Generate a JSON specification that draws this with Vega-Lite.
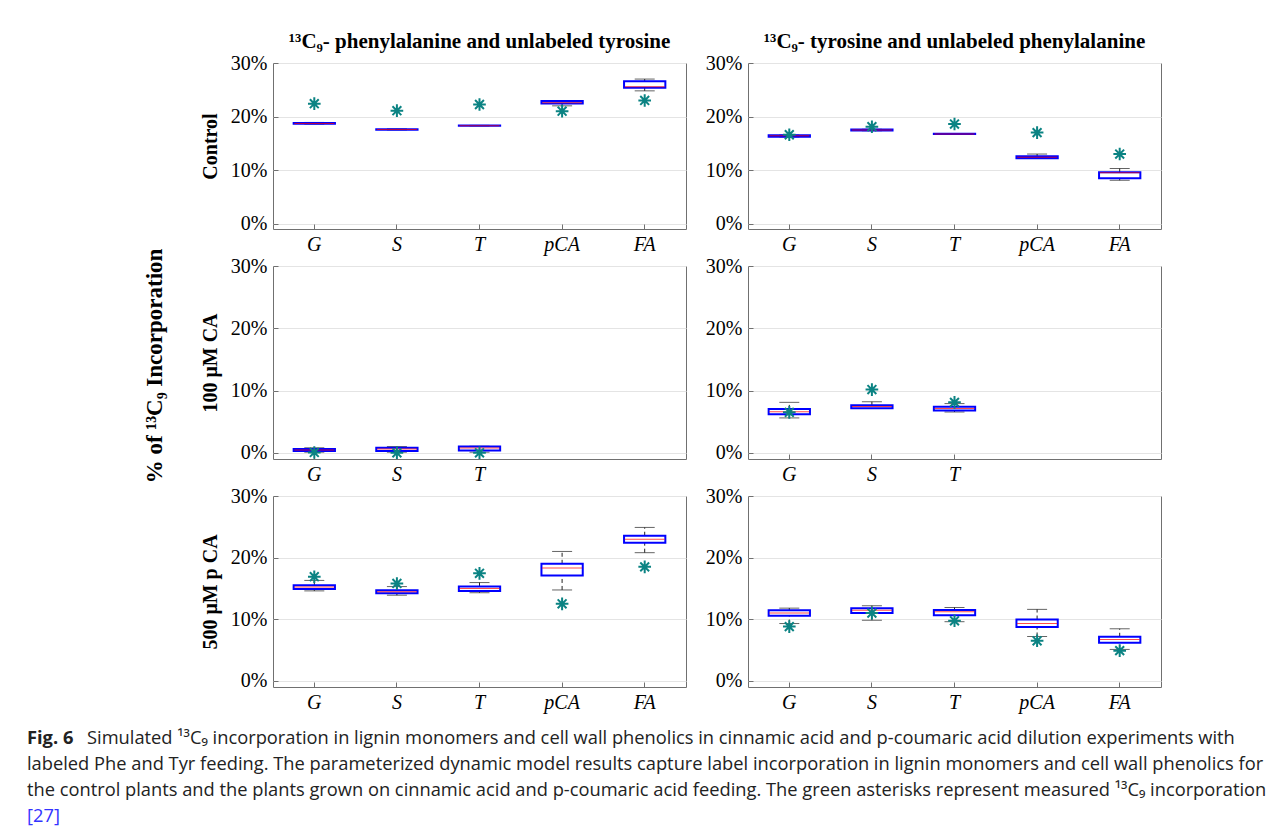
{
  "$schema": "https://vega.github.io/schema/vega-lite/v6.json",
  "padding": {"left": 27, "top": 30, "right": 0, "bottom": 0},
  "background": "white",
  "datasets": {
    "boxes": [
      {"feed": "Phe", "trt": "Control", "cat": "G", "lo": 18.6, "q1": 18.65, "med": 18.7, "q3": 18.8, "hi": 18.9, "meas": 22.4},
      {"feed": "Phe", "trt": "Control", "cat": "S", "lo": 17.5, "q1": 17.55, "med": 17.6, "q3": 17.65, "hi": 17.7, "meas": 21.1},
      {"feed": "Phe", "trt": "Control", "cat": "T", "lo": 18.25, "q1": 18.28, "med": 18.3, "q3": 18.32, "hi": 18.35, "meas": 22.25},
      {"feed": "Phe", "trt": "Control", "cat": "pCA", "lo": 22.0, "q1": 22.45, "med": 22.6, "q3": 22.9, "hi": 22.95, "meas": 21.0},
      {"feed": "Phe", "trt": "Control", "cat": "FA", "lo": 24.8, "q1": 25.4, "med": 25.55, "q3": 26.6, "hi": 27.0, "meas": 23.0},
      {"feed": "Tyr", "trt": "Control", "cat": "G", "lo": 16.2, "q1": 16.25, "med": 16.4, "q3": 16.5, "hi": 16.55, "meas": 16.6},
      {"feed": "Tyr", "trt": "Control", "cat": "S", "lo": 17.35, "q1": 17.4, "med": 17.5, "q3": 17.6, "hi": 17.65, "meas": 18.1},
      {"feed": "Tyr", "trt": "Control", "cat": "T", "lo": 16.72, "q1": 16.73, "med": 16.75, "q3": 16.77, "hi": 16.78, "meas": 18.6},
      {"feed": "Tyr", "trt": "Control", "cat": "pCA", "lo": 12.2, "q1": 12.2, "med": 12.4, "q3": 12.6, "hi": 13.0, "meas": 17.0},
      {"feed": "Tyr", "trt": "Control", "cat": "FA", "lo": 8.1, "q1": 8.5, "med": 9.5, "q3": 9.6, "hi": 10.3, "meas": 13.0},
      {"feed": "Phe", "trt": "CA", "cat": "G", "lo": 0.1, "q1": 0.3, "med": 0.45, "q3": 0.6, "hi": 0.8, "meas": 0.05},
      {"feed": "Phe", "trt": "CA", "cat": "S", "lo": 0.1, "q1": 0.3, "med": 0.6, "q3": 0.8, "hi": 1.0, "meas": 0.0},
      {"feed": "Phe", "trt": "CA", "cat": "T", "lo": 0.1, "q1": 0.35, "med": 0.75, "q3": 1.0, "hi": 1.05, "meas": 0.0},
      {"feed": "Tyr", "trt": "CA", "cat": "G", "lo": 5.6, "q1": 6.2, "med": 6.6, "q3": 7.05, "hi": 8.1, "meas": 6.5},
      {"feed": "Tyr", "trt": "CA", "cat": "S", "lo": 7.1, "q1": 7.15, "med": 7.45, "q3": 7.65, "hi": 8.2, "meas": 10.15},
      {"feed": "Tyr", "trt": "CA", "cat": "T", "lo": 6.55, "q1": 6.8, "med": 7.1, "q3": 7.4, "hi": 7.9, "meas": 8.1},
      {"feed": "Phe", "trt": "pCA", "cat": "G", "lo": 14.6, "q1": 14.9, "med": 15.25, "q3": 15.5, "hi": 16.3, "meas": 16.9},
      {"feed": "Phe", "trt": "pCA", "cat": "S", "lo": 13.9, "q1": 14.2, "med": 14.45, "q3": 14.7, "hi": 15.3, "meas": 15.8},
      {"feed": "Phe", "trt": "pCA", "cat": "T", "lo": 14.3, "q1": 14.6, "med": 15.0, "q3": 15.3, "hi": 15.95, "meas": 17.45},
      {"feed": "Phe", "trt": "pCA", "cat": "pCA", "lo": 14.75, "q1": 17.1, "med": 18.3, "q3": 19.0, "hi": 21.0, "meas": 12.5},
      {"feed": "Phe", "trt": "pCA", "cat": "FA", "lo": 20.8, "q1": 22.4, "med": 23.0, "q3": 23.55, "hi": 24.9, "meas": 18.5},
      {"feed": "Tyr", "trt": "pCA", "cat": "G", "lo": 9.3, "q1": 10.55, "med": 11.0, "q3": 11.45, "hi": 11.8, "meas": 8.8},
      {"feed": "Tyr", "trt": "pCA", "cat": "S", "lo": 9.85, "q1": 11.0, "med": 11.45, "q3": 11.8, "hi": 12.2, "meas": 11.0},
      {"feed": "Tyr", "trt": "pCA", "cat": "T", "lo": 9.6, "q1": 10.65, "med": 11.2, "q3": 11.5, "hi": 11.9, "meas": 9.75},
      {"feed": "Tyr", "trt": "pCA", "cat": "pCA", "lo": 7.2, "q1": 8.75, "med": 9.3, "q3": 9.95, "hi": 11.6, "meas": 6.5},
      {"feed": "Tyr", "trt": "pCA", "cat": "FA", "lo": 5.1, "q1": 6.2, "med": 6.7, "q3": 7.15, "hi": 8.45, "meas": 4.9}
    ],
    "ylabel": [{"label": "% of ¹³C₉ Incorporation"}],
    "caption": [
      {"line": 1, "seg": "bold", "text": "Fig. 6"},
      {"line": 1, "seg": "plain", "text": "Simulated ¹³C₉ incorporation in lignin monomers and cell wall phenolics in cinnamic acid and p-coumaric acid dilution experiments with"},
      {"line": 2, "seg": "plain", "text": "labeled Phe and Tyr feeding. The parameterized dynamic model results capture label incorporation in lignin monomers and cell wall phenolics for"},
      {"line": 3, "seg": "plain", "text": "the control plants and the plants grown on cinnamic acid and p-coumaric acid feeding. The green asterisks represent measured ¹³C₉ incorporation"},
      {"line": 4, "seg": "ref", "text": "[27]"}
    ]
  },
  "spacing": 13,
  "vconcat": [
    {
      "spacing": 106,
      "bounds": "flush",
      "hconcat": [
        {
          "width": 140, "height": 606,
          "view": {"stroke": null},
          "data": {"name": "ylabel"},
          "mark": {"type": "text", "angle": 270, "align": "center", "baseline": "bottom", "font": "Liberation Serif", "fontSize": 23, "fontWeight": "bold", "color": "black"},
          "encoding": {
            "x": {"datum": 1, "type": "quantitative", "scale": {"domain": [0, 1]}, "axis": null},
            "y": {"datum": 0.5, "type": "quantitative", "scale": {"domain": [0, 1]}, "axis": null},
            "text": {"field": "label"}
          }
        },
        {
          "spacing": 0,
          "vconcat": [
            {
              "spacing": 17,
              "hconcat": [
                {
                  "width": 413, "height": 166,
                  "title": {"text": "¹³C₉- phenylalanine and unlabeled tyrosine"},
                  "data": {"name": "boxes"},
                  "transform": [{"filter": "datum.feed === 'Phe' && datum.trt === 'Control'"}],
                  "encoding": {"x": {"field": "cat", "type": "nominal", "scale": {"type": "band", "domain": ["G", "S", "T", "pCA", "FA"], "paddingInner": 0, "paddingOuter": 0}, "axis": {"title": null}}},
                  "layer": [
                    {"mark": {"type": "rule", "color": "#222222", "strokeDash": [4, 3]}, "encoding": {"y": {"field": "lo", "type": "quantitative", "scale": {"domain": [-1, 30], "nice": false}, "axis": {"title": "Control", "values": [0, 10, 20, 30], "labelExpr": "datum.value + '%'"}}, "y2": {"field": "q1"}}},
                    {"mark": {"type": "rule", "color": "#222222", "strokeDash": [4, 3]}, "encoding": {"y": {"field": "q3", "type": "quantitative"}, "y2": {"field": "hi"}}},
                    {"mark": {"type": "tick", "color": "#222222", "size": 20, "thickness": 1}, "encoding": {"y": {"field": "lo", "type": "quantitative"}}},
                    {"mark": {"type": "tick", "color": "#222222", "size": 20, "thickness": 1}, "encoding": {"y": {"field": "hi", "type": "quantitative"}}},
                    {"mark": {"type": "bar", "width": {"band": 0.5}, "fill": "white", "fillOpacity": 0, "stroke": "#0000ff", "strokeWidth": 2}, "encoding": {"y": {"field": "q1", "type": "quantitative"}, "y2": {"field": "q3"}}},
                    {"mark": {"type": "tick", "color": "#ff0000", "size": 40, "thickness": 1}, "encoding": {"y": {"field": "med", "type": "quantitative"}}},
                    {"mark": {"type": "point", "shape": "M-1,0L1,0M0,-1L0,1M-0.7,-0.7L0.7,0.7M-0.7,0.7L0.7,-0.7", "size": 160, "filled": false, "color": "#0b8383", "strokeWidth": 2, "opacity": 1}, "encoding": {"y": {"field": "meas", "type": "quantitative"}}}
                  ]
                },
                {
                  "width": 413, "height": 166,
                  "title": {"text": "¹³C₉- tyrosine and unlabeled phenylalanine"},
                  "data": {"name": "boxes"},
                  "transform": [{"filter": "datum.feed === 'Tyr' && datum.trt === 'Control'"}],
                  "encoding": {"x": {"field": "cat", "type": "nominal", "scale": {"type": "band", "domain": ["G", "S", "T", "pCA", "FA"], "paddingInner": 0, "paddingOuter": 0}, "axis": {"title": null}}},
                  "layer": [
                    {"mark": {"type": "rule", "color": "#222222", "strokeDash": [4, 3]}, "encoding": {"y": {"field": "lo", "type": "quantitative", "scale": {"domain": [-1, 30], "nice": false}, "axis": {"title": null, "values": [0, 10, 20, 30], "labelExpr": "datum.value + '%'"}}, "y2": {"field": "q1"}}},
                    {"mark": {"type": "rule", "color": "#222222", "strokeDash": [4, 3]}, "encoding": {"y": {"field": "q3", "type": "quantitative"}, "y2": {"field": "hi"}}},
                    {"mark": {"type": "tick", "color": "#222222", "size": 20, "thickness": 1}, "encoding": {"y": {"field": "lo", "type": "quantitative"}}},
                    {"mark": {"type": "tick", "color": "#222222", "size": 20, "thickness": 1}, "encoding": {"y": {"field": "hi", "type": "quantitative"}}},
                    {"mark": {"type": "bar", "width": {"band": 0.5}, "fill": "white", "fillOpacity": 0, "stroke": "#0000ff", "strokeWidth": 2}, "encoding": {"y": {"field": "q1", "type": "quantitative"}, "y2": {"field": "q3"}}},
                    {"mark": {"type": "tick", "color": "#ff0000", "size": 40, "thickness": 1}, "encoding": {"y": {"field": "med", "type": "quantitative"}}},
                    {"mark": {"type": "point", "shape": "M-1,0L1,0M0,-1L0,1M-0.7,-0.7L0.7,0.7M-0.7,0.7L0.7,-0.7", "size": 160, "filled": false, "color": "#0b8383", "strokeWidth": 2, "opacity": 1}, "encoding": {"y": {"field": "meas", "type": "quantitative"}}}
                  ]
                }
              ]
            },
            {
              "spacing": 17,
              "hconcat": [
                {
                  "width": 413, "height": 193,
                  "data": {"name": "boxes"},
                  "transform": [{"filter": "datum.feed === 'Phe' && datum.trt === 'CA'"}],
                  "encoding": {"x": {"field": "cat", "type": "nominal", "scale": {"type": "band", "domain": ["G", "S", "T", "pCA", "FA"], "paddingInner": 0, "paddingOuter": 0}, "axis": {"title": null, "values": ["G", "S", "T"]}}},
                  "layer": [
                    {"mark": {"type": "rule", "color": "#222222", "strokeDash": [4, 3]}, "encoding": {"y": {"field": "lo", "type": "quantitative", "scale": {"domain": [-1, 30], "nice": false}, "axis": {"title": "100 μM CA", "values": [0, 10, 20, 30], "labelExpr": "datum.value + '%'"}}, "y2": {"field": "q1"}}},
                    {"mark": {"type": "rule", "color": "#222222", "strokeDash": [4, 3]}, "encoding": {"y": {"field": "q3", "type": "quantitative"}, "y2": {"field": "hi"}}},
                    {"mark": {"type": "tick", "color": "#222222", "size": 20, "thickness": 1}, "encoding": {"y": {"field": "lo", "type": "quantitative"}}},
                    {"mark": {"type": "tick", "color": "#222222", "size": 20, "thickness": 1}, "encoding": {"y": {"field": "hi", "type": "quantitative"}}},
                    {"mark": {"type": "bar", "width": {"band": 0.5}, "fill": "white", "fillOpacity": 0, "stroke": "#0000ff", "strokeWidth": 2}, "encoding": {"y": {"field": "q1", "type": "quantitative"}, "y2": {"field": "q3"}}},
                    {"mark": {"type": "tick", "color": "#ff0000", "size": 40, "thickness": 1}, "encoding": {"y": {"field": "med", "type": "quantitative"}}},
                    {"mark": {"type": "point", "shape": "M-1,0L1,0M0,-1L0,1M-0.7,-0.7L0.7,0.7M-0.7,0.7L0.7,-0.7", "size": 160, "filled": false, "color": "#0b8383", "strokeWidth": 2, "opacity": 1}, "encoding": {"y": {"field": "meas", "type": "quantitative"}}}
                  ]
                },
                {
                  "width": 413, "height": 193,
                  "data": {"name": "boxes"},
                  "transform": [{"filter": "datum.feed === 'Tyr' && datum.trt === 'CA'"}],
                  "encoding": {"x": {"field": "cat", "type": "nominal", "scale": {"type": "band", "domain": ["G", "S", "T", "pCA", "FA"], "paddingInner": 0, "paddingOuter": 0}, "axis": {"title": null, "values": ["G", "S", "T"]}}},
                  "layer": [
                    {"mark": {"type": "rule", "color": "#222222", "strokeDash": [4, 3]}, "encoding": {"y": {"field": "lo", "type": "quantitative", "scale": {"domain": [-1, 30], "nice": false}, "axis": {"title": null, "values": [0, 10, 20, 30], "labelExpr": "datum.value + '%'"}}, "y2": {"field": "q1"}}},
                    {"mark": {"type": "rule", "color": "#222222", "strokeDash": [4, 3]}, "encoding": {"y": {"field": "q3", "type": "quantitative"}, "y2": {"field": "hi"}}},
                    {"mark": {"type": "tick", "color": "#222222", "size": 20, "thickness": 1}, "encoding": {"y": {"field": "lo", "type": "quantitative"}}},
                    {"mark": {"type": "tick", "color": "#222222", "size": 20, "thickness": 1}, "encoding": {"y": {"field": "hi", "type": "quantitative"}}},
                    {"mark": {"type": "bar", "width": {"band": 0.5}, "fill": "white", "fillOpacity": 0, "stroke": "#0000ff", "strokeWidth": 2}, "encoding": {"y": {"field": "q1", "type": "quantitative"}, "y2": {"field": "q3"}}},
                    {"mark": {"type": "tick", "color": "#ff0000", "size": 40, "thickness": 1}, "encoding": {"y": {"field": "med", "type": "quantitative"}}},
                    {"mark": {"type": "point", "shape": "M-1,0L1,0M0,-1L0,1M-0.7,-0.7L0.7,0.7M-0.7,0.7L0.7,-0.7", "size": 160, "filled": false, "color": "#0b8383", "strokeWidth": 2, "opacity": 1}, "encoding": {"y": {"field": "meas", "type": "quantitative"}}}
                  ]
                }
              ]
            },
            {
              "spacing": 17,
              "hconcat": [
                {
                  "width": 413, "height": 191,
                  "data": {"name": "boxes"},
                  "transform": [{"filter": "datum.feed === 'Phe' && datum.trt === 'pCA'"}],
                  "encoding": {"x": {"field": "cat", "type": "nominal", "scale": {"type": "band", "domain": ["G", "S", "T", "pCA", "FA"], "paddingInner": 0, "paddingOuter": 0}, "axis": {"title": null}}},
                  "layer": [
                    {"mark": {"type": "rule", "color": "#222222", "strokeDash": [4, 3]}, "encoding": {"y": {"field": "lo", "type": "quantitative", "scale": {"domain": [-1, 30], "nice": false}, "axis": {"title": "500 μM p CA", "values": [0, 10, 20, 30], "labelExpr": "datum.value + '%'"}}, "y2": {"field": "q1"}}},
                    {"mark": {"type": "rule", "color": "#222222", "strokeDash": [4, 3]}, "encoding": {"y": {"field": "q3", "type": "quantitative"}, "y2": {"field": "hi"}}},
                    {"mark": {"type": "tick", "color": "#222222", "size": 20, "thickness": 1}, "encoding": {"y": {"field": "lo", "type": "quantitative"}}},
                    {"mark": {"type": "tick", "color": "#222222", "size": 20, "thickness": 1}, "encoding": {"y": {"field": "hi", "type": "quantitative"}}},
                    {"mark": {"type": "bar", "width": {"band": 0.5}, "fill": "white", "fillOpacity": 0, "stroke": "#0000ff", "strokeWidth": 2}, "encoding": {"y": {"field": "q1", "type": "quantitative"}, "y2": {"field": "q3"}}},
                    {"mark": {"type": "tick", "color": "#ff0000", "size": 40, "thickness": 1}, "encoding": {"y": {"field": "med", "type": "quantitative"}}},
                    {"mark": {"type": "point", "shape": "M-1,0L1,0M0,-1L0,1M-0.7,-0.7L0.7,0.7M-0.7,0.7L0.7,-0.7", "size": 160, "filled": false, "color": "#0b8383", "strokeWidth": 2, "opacity": 1}, "encoding": {"y": {"field": "meas", "type": "quantitative"}}}
                  ]
                },
                {
                  "width": 413, "height": 191,
                  "data": {"name": "boxes"},
                  "transform": [{"filter": "datum.feed === 'Tyr' && datum.trt === 'pCA'"}],
                  "encoding": {"x": {"field": "cat", "type": "nominal", "scale": {"type": "band", "domain": ["G", "S", "T", "pCA", "FA"], "paddingInner": 0, "paddingOuter": 0}, "axis": {"title": null}}},
                  "layer": [
                    {"mark": {"type": "rule", "color": "#222222", "strokeDash": [4, 3]}, "encoding": {"y": {"field": "lo", "type": "quantitative", "scale": {"domain": [-1, 30], "nice": false}, "axis": {"title": null, "values": [0, 10, 20, 30], "labelExpr": "datum.value + '%'"}}, "y2": {"field": "q1"}}},
                    {"mark": {"type": "rule", "color": "#222222", "strokeDash": [4, 3]}, "encoding": {"y": {"field": "q3", "type": "quantitative"}, "y2": {"field": "hi"}}},
                    {"mark": {"type": "tick", "color": "#222222", "size": 20, "thickness": 1}, "encoding": {"y": {"field": "lo", "type": "quantitative"}}},
                    {"mark": {"type": "tick", "color": "#222222", "size": 20, "thickness": 1}, "encoding": {"y": {"field": "hi", "type": "quantitative"}}},
                    {"mark": {"type": "bar", "width": {"band": 0.5}, "fill": "white", "fillOpacity": 0, "stroke": "#0000ff", "strokeWidth": 2}, "encoding": {"y": {"field": "q1", "type": "quantitative"}, "y2": {"field": "q3"}}},
                    {"mark": {"type": "tick", "color": "#ff0000", "size": 40, "thickness": 1}, "encoding": {"y": {"field": "med", "type": "quantitative"}}},
                    {"mark": {"type": "point", "shape": "M-1,0L1,0M0,-1L0,1M-0.7,-0.7L0.7,0.7M-0.7,0.7L0.7,-0.7", "size": 160, "filled": false, "color": "#0b8383", "strokeWidth": 2, "opacity": 1}, "encoding": {"y": {"field": "meas", "type": "quantitative"}}}
                  ]
                }
              ]
            }
          ]
        }
      ]
    },
    {
      "width": 1240, "height": 104,
      "view": {"stroke": null},
      "data": {"name": "caption"},
      "encoding": {
        "x": {"datum": 0, "type": "quantitative", "scale": {"domain": [0, 1]}, "axis": null},
        "y": {"field": "line", "type": "quantitative", "scale": {"domain": [0.5, 4.5], "reverse": true}, "axis": null},
        "text": {"field": "text"}
      },
      "layer": [
        {"transform": [{"filter": "datum.seg === 'bold'"}], "mark": {"type": "text", "align": "left", "baseline": "middle", "font": "Open Sans", "fontSize": 18.3, "fontWeight": "bold", "color": "#222222"}},
        {"transform": [{"filter": "datum.seg === 'plain' && datum.line === 1"}], "mark": {"type": "text", "align": "left", "baseline": "middle", "font": "Open Sans", "fontSize": 18.3, "color": "#222222", "dx": 60}},
        {"transform": [{"filter": "datum.seg === 'plain' && datum.line !== 1"}], "mark": {"type": "text", "align": "left", "baseline": "middle", "font": "Open Sans", "fontSize": 18.3, "color": "#222222"}},
        {"transform": [{"filter": "datum.seg === 'ref'"}], "mark": {"type": "text", "align": "left", "baseline": "middle", "font": "Open Sans", "fontSize": 18.3, "color": "#3333ff"}}
      ]
    }
  ],
  "config": {
    "font": "Liberation Serif",
    "view": {"stroke": "#707070", "strokeWidth": 1},
    "axis": {"labelColor": "black", "gridColor": "#e4e4e4", "gridWidth": 1, "domain": false, "ticks": true, "tickSize": -5, "tickColor": "#707070", "titleColor": "black"},
    "axisY": {"labelFont": "Liberation Serif", "labelFontSize": 20, "labelPadding": 11, "titleFont": "Liberation Serif", "titleFontSize": 20, "titleFontWeight": "bold", "titlePadding": 10},
    "axisX": {"labelFont": "Liberation Serif", "labelFontSize": 20, "labelFontStyle": "italic", "labelAngle": 0, "labelPadding": 10, "bandPosition": 0.5},
    "title": {"font": "Liberation Serif", "fontSize": 21, "fontWeight": "bold", "color": "black", "offset": 1, "baseline": "alphabetic"}
  }
}
